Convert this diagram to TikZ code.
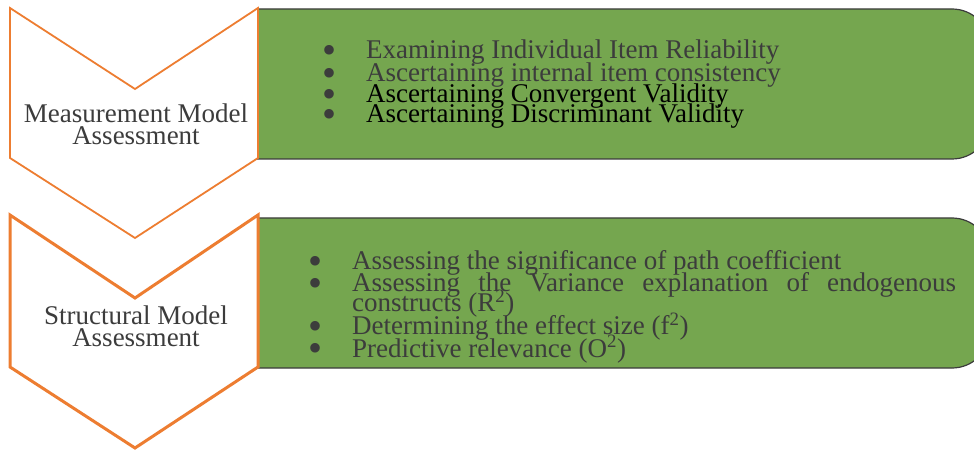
\documentclass[tikz,border=0pt]{standalone}
\usepackage{fontspec}
\setmainfont{Liberation Serif}
\usepackage{xcolor}
\usepackage{tikz}
\usetikzlibrary{positioning}
\definecolor{assessorange}{HTML}{ED7D31}
\definecolor{assessgreen}{HTML}{75A64F}
\definecolor{assessgray}{HTML}{3C3C3C}
\newcommand{\bitem}[1]{\makebox[44pt][l]{\raisebox{-4.5pt}{\fontsize{40}{22}\selectfont\color{assessgray}\textbullet}}#1}

\begin{document}
\begin{tikzpicture}[x=1pt,y=1pt,
  chevron/.style={draw=assessorange,fill=white,line join=miter},
  panel/.style={draw=assessgray,fill=assessgreen,line width=1.2pt},
  itemtext/.style={anchor=base west,inner sep=0pt,font=\fontsize{27}{22}\selectfont,text=assessgray},
  stagetext/.style={anchor=base,inner sep=0pt,font=\fontsize{27}{22}\selectfont,text=assessgray}]
  \useasboundingbox(0,0)rectangle(974,450);
  \clip(0,0)rectangle(974,450);
  % green panels
  \draw[panel](257,441)--(952,441)arc[start angle=90,end angle=0,radius=38]--(990,329)arc[start angle=0,end angle=-90,radius=38]--(257,291)--cycle;
  \draw[panel](257,232)--(952,232)arc[start angle=90,end angle=0,radius=38]--(990,120)arc[start angle=0,end angle=-90,radius=38]--(257,82)--cycle;
  % chevrons
  \draw[chevron,line width=1.8pt](10,442)--(135,361)--(258,442)--(258,292)--(135,212)--(10,292)--cycle;
  \draw[chevron,line width=3pt](10,235)--(135,152)--(258,235)--(258,83)--(135,2)--(10,83)--cycle;
  % stage labels
  \node[stagetext](measure1)at(136,327){Measurement Model};
  \node[stagetext](measure2)at(136,305){Assessment};
  \node[stagetext](struct1)at(136,125){Structural Model};
  \node[stagetext](struct2)at(136,104){Assessment};
  % measurement items
  \node[itemtext](m1)at(322,391){\bitem{Examining Individual Item Reliability}};
  \node[itemtext](m2)at(322,368){\bitem{Ascertaining internal item consistency}};
  \node[itemtext,text=black](m3)at(322,347){\bitem{Ascertaining Convergent Validity}};
  \node[itemtext,text=black](m4)at(322,327){\bitem{Ascertaining Discriminant Validity}};
  % structural items
  \node[itemtext](s1)at(308,180){\bitem{Assessing the significance of path coefficient}};
  \node[itemtext](s2)at(308,158){\bitem{\makebox[604pt][s]{Assessing the Variance explanation of endogenous}}};
  \node[itemtext](s3)at(352,138){constructs (R\textsuperscript{2})};
  \node[itemtext](s4)at(308,115){\bitem{Determining the effect size (f\textsuperscript{2})}};
  \node[itemtext](s5)at(308,93){\bitem{Predictive relevance (O\textsuperscript{2})}};
\end{tikzpicture}
\end{document}
